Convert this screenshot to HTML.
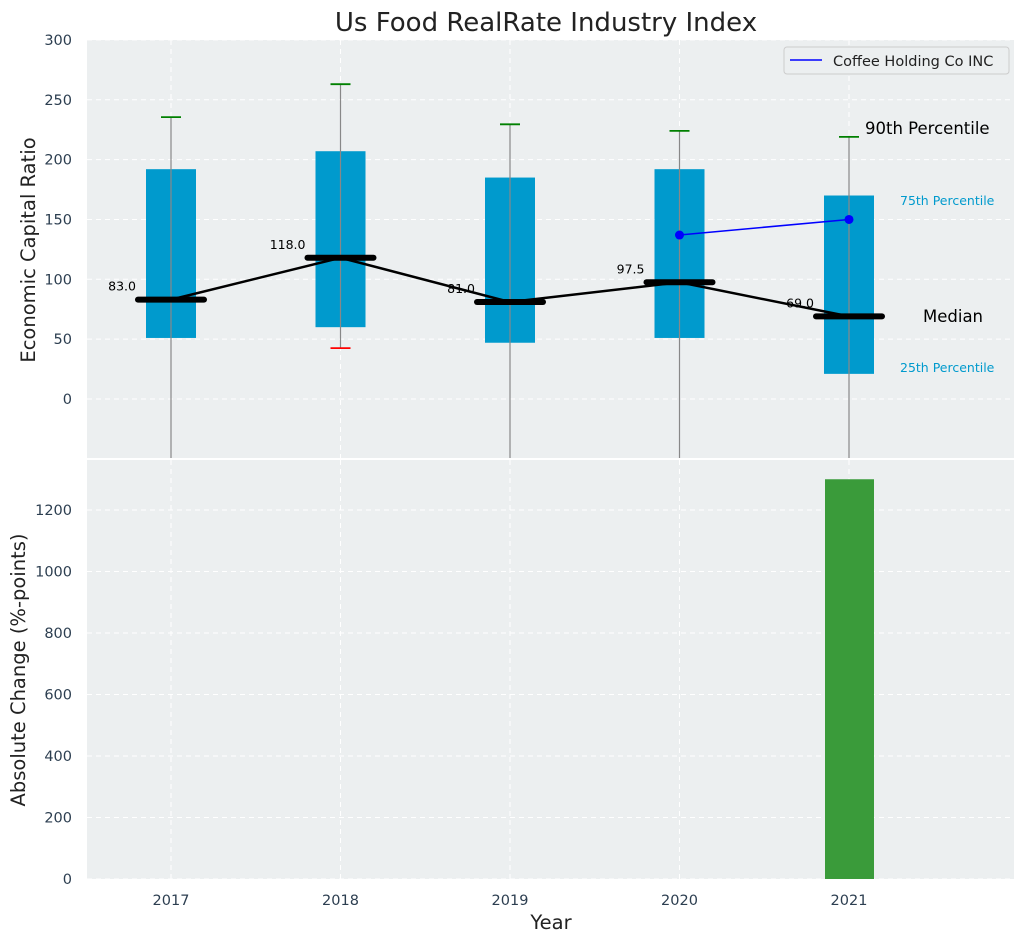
<!DOCTYPE html>
<html><head><meta charset="utf-8"><style>
body{margin:0;background:#fff;}
svg text{font-family:"DejaVu Sans","Liberation Sans",sans-serif;}
</style></head><body>
<svg id="c" width="1026" height="942" xmlns="http://www.w3.org/2000/svg">
<text x="546" y="31" font-size="26" fill="#222" text-anchor="middle">Us Food RealRate Industry Index</text>
<rect x="87" y="40" width="927" height="418" fill="#eceff0"/>
<rect x="87" y="460" width="927" height="419" fill="#eceff0"/>
<g id="g"></g>
</svg>
<script>
const years=[2017,2018,2019,2020,2021];
const q1=[51,60,47,51,21];
const q3=[192,207,185,192,170];
const p90=[235.5,263,229.5,224,219];
const p10=[-80,42.5,-80,-80,-80];
const medians=[83,118,81,97.5,69];
const medianLabels=["83.0","118.0","81.0","97.5","69.0"];
const coYears=[2020,2021];
const coVals=[137,150];
const changeYears=[2021];
const changeVals=[1300];
const topTicks=[0,50,100,150,200,250,300];
const botTicks=[0,200,400,600,800,1000,1200];

const NS="http://www.w3.org/2000/svg";
const g=document.getElementById('g');
const X=y=>171+(y-2017)*169.5;
const Yt=v=>399-v*1.197;
const Yb=v=>879-v*0.3075;
function el(t,a,txt){const e=document.createElementNS(NS,t);for(const k in a)e.setAttribute(k,a[k]);if(txt!==undefined)e.textContent=txt;g.appendChild(e);return e;}

topTicks.forEach(t=>{
 const l=el('line',{x1:87,x2:1014,y1:Yt(t),y2:Yt(t),stroke:'#fff','stroke-dasharray':'5,4','stroke-width':1});
 
 
 const tx=el('text',{x:72,y:Yt(t)+5,'font-size':14.5,fill:'#2c3e50','text-anchor':'end'},String(t));
 
 
});
botTicks.forEach(t=>{
 const l=el('line',{x1:87,x2:1014,y1:Yb(t),y2:Yb(t),stroke:'#fff','stroke-dasharray':'5,4','stroke-width':1});
 
 
 const tx=el('text',{x:72,y:Yb(t)+5,'font-size':14.5,fill:'#2c3e50','text-anchor':'end'},String(t));
 
 
});
years.forEach(y=>{
 [[40,458],[460,879]].forEach(r=>{
  const l=el('line',{x1:X(y),x2:X(y),y1:r[0],y2:r[1],stroke:'#fff','stroke-dasharray':'5,4'});
  
  
 });
 const tx=el('text',{x:X(y),y:905,'font-size':14.5,fill:'#2c3e50','text-anchor':'middle'},String(y));
 
 
});
years.forEach((y,i)=>{
 const x=X(y);
 const b=el('rect',{x:x-25,y:Yt(q3[i]),width:50,height:Yt(q1[i])-Yt(q3[i]),fill:'#009acd'});
 
 
 const w=el('line',{x1:x,x2:x,y1:Yt(p90[i]),y2:Math.min(458,Yt(p10[i])),stroke:'#888','stroke-width':1.2});
 
 
 const c=el('line',{x1:x-10,x2:x+10,y1:Yt(p90[i]),y2:Yt(p90[i]),stroke:'green','stroke-width':1.8});
 
 
 if(Yt(p10[i])<458){
  const r=el('line',{x1:x-10,x2:x+10,y1:Yt(p10[i]),y2:Yt(p10[i]),stroke:'red','stroke-width':1.8});
  
  
 }
});
const ml=el('polyline',{points:years.map((y,i)=>X(y)+','+Yt(medians[i])).join(' '),fill:'none',stroke:'#000','stroke-width':2.5});


years.forEach((y,i)=>{
 const m=el('line',{x1:X(y)-33,x2:X(y)+33,y1:Yt(medians[i]),y2:Yt(medians[i]),stroke:'#000','stroke-width':6,'stroke-linecap':'round'});
 
 
 const t=el('text',{x:X(y)-35,y:Yt(medians[i])-9,'font-size':12.5,fill:'#000','text-anchor':'end'},medianLabels[i]);
 
 
});
const cl=el('polyline',{points:coYears.map((y,i)=>X(y)+','+Yt(coVals[i])).join(' '),fill:'none',stroke:'blue','stroke-width':1.5});


coYears.forEach((y,i)=>{
 const p=el('circle',{cx:X(y),cy:Yt(coVals[i]),r:4.5,fill:'blue'});
 
 
});
changeYears.forEach((y,i)=>{
 const b=el('rect',{x:X(y)-24,y:Yb(changeVals[i]),width:49,height:879-Yb(changeVals[i]),fill:'#3a9b3a'});
 
 
});
[["90th Percentile",865,134,16.5,'#000'],["75th Percentile",900,205,12.5,'#009acd'],["Median",923,322,16.5,'#000'],["25th Percentile",900,372,12.5,'#009acd']].forEach(a=>{
 const t=el('text',{x:a[1],y:a[2],'font-size':a[3],fill:a[4]},a[0]);
 
 
});
const lg=el('rect',{x:784,y:47,width:225,height:27,rx:3,fill:'#eceff0',stroke:'#ccc'});


const ll=el('line',{x1:790,x2:822,y1:60,y2:60,stroke:'blue','stroke-width':1.5});


const lt=el('text',{x:833,y:66,'font-size':14.5,fill:'#222'},'Coffee Holding Co INC');


const a1=el('text',{x:0,y:0,'font-size':19.5,fill:'#222','text-anchor':'middle',transform:'translate(35,250) rotate(-90)'},'Economic Capital Ratio');


const a2=el('text',{x:0,y:0,'font-size':19.5,fill:'#222','text-anchor':'middle',transform:'translate(25,670) rotate(-90)'},'Absolute Change (%-points)');


const a3=el('text',{x:551,y:929,'font-size':19.5,fill:'#222','text-anchor':'middle'},'Year');


</script>
</body></html>
